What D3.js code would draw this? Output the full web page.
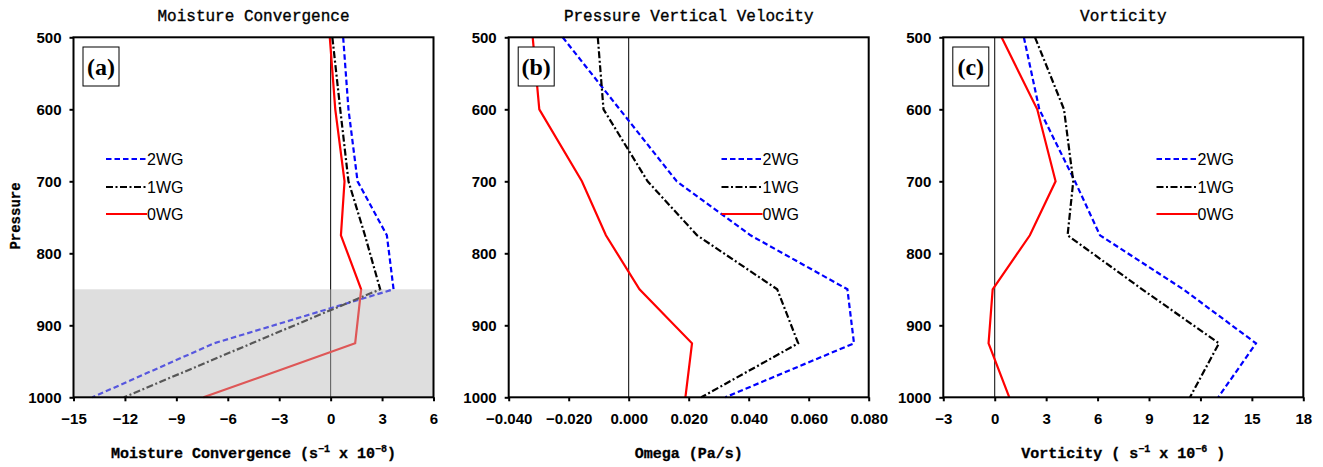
<!DOCTYPE html>
<html>
<head>
<meta charset="utf-8">
<script src="https://cdn.jsdelivr.net/npm/d3@7"></script>
<style>
  html, body { margin: 0; padding: 0; background: #fff; }
  svg { display: block; }
</style>
</head>
<body>
<svg id="chart" width="1323" height="467"></svg>
<script>
// ---------------- DATA ----------------
const levels = [500, 600, 700, 775, 850, 925, 1000];
const seriesNames = ["2WG", "1WG", "0WG"];

// (a) Moisture convergence (s^-1 x 10^-8)
const mconv2WG = [0.73, 1.04, 1.57, 3.28, 3.67, -6.8, -13.9];
const mconv1WG = [0.10, 0.56, 1.04, 2.00, 2.89, -4.6, -12.06];
const mconv0WG = [-0.05, 0.27, 0.81, 0.60, 1.78, 1.43, -7.42];

// (b) Omega (Pa/s)
const omega2WG = [-0.022, -0.003, 0.016, 0.0406, 0.0729, 0.0751, 0.0322];
const omega1WG = [-0.0103, -0.0084, 0.0063, 0.0228, 0.0495, 0.0565, 0.0242];
const omega0WG = [-0.032, -0.0298, -0.0156, -0.0076, 0.0036, 0.0211, 0.0189];

// (c) Vorticity (s^-1 x 10^-6)
const vort2WG = [1.70, 2.60, 4.68, 6.14, 11.0, 15.24, 13.04];
const vort1WG = [2.35, 4.04, 4.58, 4.25, 8.60, 13.08, 11.39];
const vort0WG = [0.40, 2.48, 3.55, 2.05, -0.12, -0.36, 0.85];

const pressureTicks = [500, 600, 700, 800, 900, 1000];
const mconvTicks = [-15, -12, -9, -6, -3, 0, 3, 6];
const omegaTicks = [-0.04, -0.02, 0, 0.02, 0.04, 0.06, 0.08];
const vortTicks = [-3, 0, 3, 6, 9, 12, 15, 18];

// ---------------- STYLE ----------------
const styles = {
  "2WG": { color: "#0000ff", dash: "5.5,3" },
  "1WG": { color: "#000000", dash: "7,2.5,2,2.5" },
  "0WG": { color: "#ff0000", dash: null }
};

const svg = d3.select("#chart");
const plotW = 360, plotH = 360, plotTop = 37.3;

const panels = [
  { left: 73.5, tag: "(a)", title: "Moisture Convergence",
    domain: [-15, 6], ticks: mconvTicks, fmt: d => d3.format("d")(d),
    data: [mconv2WG, mconv1WG, mconv0WG],
    xlabel: ["Moisture Convergence (s", "\u22121", " x 10", "\u22128", ")"],
    shade: [850, 1000], legendX: 106 },
  { left: 508.7, tag: "(b)", title: "Pressure Vertical Velocity",
    domain: [-0.04, 0.08], ticks: omegaTicks, fmt: d3.format(".3f"),
    data: [omega2WG, omega1WG, omega0WG],
    xlabel: ["Omega (Pa/s)"], legendX: 721.5 },
  { left: 943.3, tag: "(c)", title: "Vorticity",
    domain: [-3, 18], ticks: vortTicks, fmt: d => d3.format("d")(d),
    data: [vort2WG, vort1WG, vort0WG],
    xlabel: ["Vorticity ( s", "\u22121", " x 10", "\u22126", " )"], legendX: 1156.5 }
];

const y = d3.scaleLinear().domain([500, 1000]).range([plotTop, plotTop + plotH]);

panels.forEach((p, pi) => {
  const x = d3.scaleLinear().domain(p.domain).range([p.left, p.left + plotW]);
  const g = svg.append("g");

  // zero line
  g.append("line")
    .attr("x1", x(0)).attr("x2", x(0))
    .attr("y1", y(500)).attr("y2", y(1000))
    .attr("stroke", "#000").attr("stroke-width", 1);

  // data lines
  const line = d3.line().x(d => x(d[0])).y(d => y(d[1]));
  p.data.forEach((vals, si) => {
    const st = styles[seriesNames[si]];
    const pts = vals.map((v, i) => [v, levels[i]]);
    g.append("path")
      .attr("d", line(pts))
      .attr("fill", "none")
      .attr("stroke", st.color)
      .attr("stroke-width", 2.2)
      .attr("stroke-linejoin", "miter")
      .attr("stroke-dasharray", st.dash);
  });

  // shading overlay
  if (p.shade) {
    g.append("rect")
      .attr("x", p.left).attr("y", y(p.shade[0]))
      .attr("width", plotW).attr("height", y(p.shade[1]) - y(p.shade[0]))
      .attr("fill", "rgb(184,184,184)").attr("fill-opacity", 0.47);
  }

  // axes
  const xAxis = d3.axisBottom(x).tickValues(p.ticks).tickFormat(p.fmt)
    .tickSizeInner(4).tickSizeOuter(0).tickPadding(8);
  const gx = g.append("g").attr("transform", `translate(0,${plotTop + plotH})`).call(xAxis);
  const yAxis = d3.axisLeft(y).tickValues(pressureTicks).tickFormat(d3.format("d"))
    .tickSizeInner(4).tickSizeOuter(0).tickPadding(8);
  const gy = g.append("g").attr("transform", `translate(${p.left},0)`).call(yAxis);
  [gx, gy].forEach(a => {
    a.select(".domain").remove();
    a.selectAll(".tick line").attr("stroke", "#000").attr("stroke-width", 2);
    a.selectAll(".tick text")
      .attr("font-family", "'Liberation Sans', Arial, sans-serif")
      .attr("font-weight", "bold").attr("font-size", 15).attr("fill", "#000");
  });
  gx.selectAll(".tick text").attr("dy", "0.95em");

  // frame
  g.append("rect")
    .attr("x", p.left).attr("y", plotTop)
    .attr("width", plotW).attr("height", plotH)
    .attr("fill", "none").attr("stroke", "#000").attr("stroke-width", 2);

  // title
  g.append("text")
    .attr("x", p.left + plotW / 2).attr("y", 21)
    .attr("text-anchor", "middle")
    .attr("font-family", "'Liberation Mono', 'DejaVu Sans Mono', monospace")
    .attr("font-size", 16).attr("fill", "#000")
    .attr("stroke", "#000").attr("stroke-width", 0.35)
    .text(p.title);

  // x label
  const xl = g.append("text")
    .attr("x", p.left + plotW / 2).attr("y", 458)
    .attr("text-anchor", "middle")
    .attr("font-family", "'Liberation Mono', 'DejaVu Sans Mono', monospace")
    .attr("font-weight", "bold").attr("font-size", 15).attr("fill", "#000")
    .attr("stroke", "#000").attr("stroke-width", 0.3);
  p.xlabel.forEach((s, i) => {
    const sup = (i % 2 === 1);
    xl.append("tspan")
      .attr("font-size", sup ? 10 : 15)
      .attr("dy", sup ? -6 : (i > 0 ? 6 : 0))
      .attr("xml:space", "preserve")
      .text(s);
  });

  // panel tag box
  const bx = p.left + 9.5, by = 47;
  g.append("rect")
    .attr("x", bx).attr("y", by).attr("width", 36).attr("height", 39)
    .attr("fill", "#fff").attr("stroke", "#000").attr("stroke-width", 1);
  g.append("text")
    .attr("x", bx + 18).attr("y", by + 28)
    .attr("text-anchor", "middle")
    .attr("font-family", "'Liberation Serif', 'Times New Roman', serif")
    .attr("font-weight", "bold").attr("font-size", 24).attr("fill", "#000")
    .text(p.tag);

  // legend
  const legY = [159, 187, 214];
  seriesNames.forEach((name, si) => {
    const st = styles[name];
    g.append("line")
      .attr("x1", p.legendX).attr("x2", p.legendX + 41)
      .attr("y1", legY[si]).attr("y2", legY[si])
      .attr("stroke", st.color).attr("stroke-width", 2.2)
      .attr("stroke-dasharray", st.dash);
    g.append("text")
      .attr("x", p.legendX + 41).attr("y", legY[si] + 6)
      .attr("font-family", "'Liberation Sans', Arial, sans-serif")
      .attr("font-size", 16).attr("fill", "#000")
      .text(name);
  });
});

// y axis title
svg.append("text")
  .attr("transform", "translate(20,216) rotate(-90)")
  .attr("text-anchor", "middle")
  .attr("font-family", "'Liberation Mono', 'DejaVu Sans Mono', monospace")
  .attr("font-weight", "bold").attr("font-size", 14).attr("fill", "#000")
  .attr("stroke", "#000").attr("stroke-width", 0.3)
  .text("Pressure");
</script>
</body>
</html>
